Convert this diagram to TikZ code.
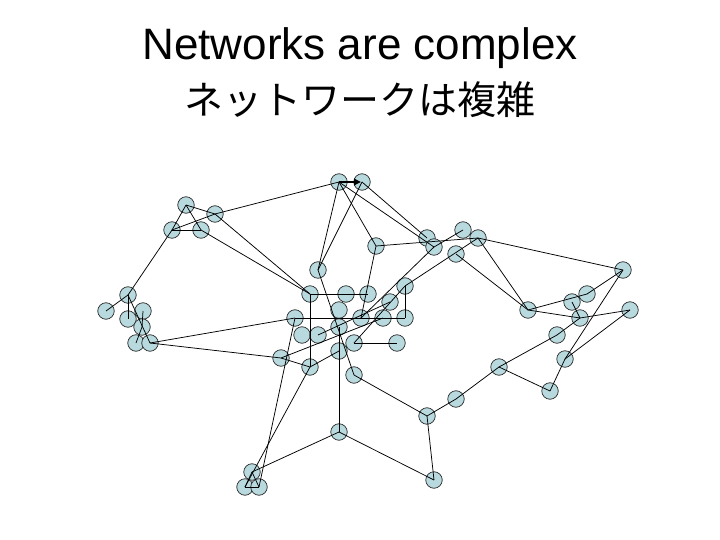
\documentclass[tikz,border=0pt]{standalone}
\usepackage{fontspec}
\setmainfont{Liberation Sans}
\newfontfamily\jpfont{Noto Sans CJK JP}
\usetikzlibrary{arrows.meta}
\definecolor{vertexblue}{RGB}{184,218,223}
\tikzset{
  vertex/.style={circle, draw=black!85, fill=vertexblue, line width=0.7pt, minimum size=16.5pt, inner sep=0pt},
  link/.style={line width=0.75pt}
}
\begin{document}
\begin{tikzpicture}[x=1pt,y=-1pt]
	\useasboundingbox (0,0) rectangle (720,540);

	% Title
	\node[anchor=base, font=\fontsize{44}{50}\selectfont] (title) at (360,59.5) {Networks are complex};
	\node[anchor=base, font=\jpfont\fontsize{39}{45}\selectfont] (subtitle) at (360,115) {ネットワークは複雑};

	% Vertices
	\foreach \v/\x/\y in {n1/339/182, n2/362/182,
		a1/186/205, a2/215/214, a3/172/230, a4/201/230,
		b1/128/295, b2/106/311, b3/128/319, b4/143/311, b5/142/327, b6/136/343, b7/150/343,
		d1/318/270, d2/376/246, e1/427/238, e2/434/247, e3/463/230, e4/478/238, e5/456/254,
		c1/310/294, c2/346/294, c3/368/294, c4/405/286, c5/390/302, c6/339/310,
		c7/295/318, c8/361/318, c9/383/318, c10/405/318, c11/302/335, c12/318/335,
		c13/339/327, c14/354/343, c15/397/343, c16/281/358, c17/339/351, c18/310/367, c19/354/375,
		f1/623/270, f2/528/310, f3/587/294, f4/572/302, f5/580/318, f6/630/310,
		f7/557/335, f8/565/359, f9/499/367, f10/550/391,
		g1/456/399, g2/427/416, g3/434/480, h1/339/432,
		i1/252/472, i2/245/487, i3/259/487} {
		\node[vertex] (\v) at (\x,\y) {};
	}

	% Links
	\foreach \a/\b in {n1/d1, n2/d1, n1/d2, n1/e2, n2/e1, a2/n1,
		a1/a2, a1/a3, a1/a4, a3/a4, a3/a2, a3/b1, a2/c1, a4/c1,
		b1/b2, b1/b3, b1/b7, b4/b5, b5/b6, b7/c7, b7/c16,
		c7/c10, c1/c3, c1/c18, c4/c10, c4/c14, c14/c15, d2/c8, e2/c8, e4/c4,
		d1/c19, c13/h1, c16/c18, c18/c17, c16/c9, c12/c5,
		d2/e4, e2/e3, e4/f1, e4/f2, e5/f2, f2/f3, f2/f5, f3/f1, f4/f5, f5/f6,
		f1/f8, f6/f8, f8/f10, f9/f7, f7/f5, f9/f10, f9/g1, g1/g2, g2/g3, c19/g2,
		h1/g3, h1/i1, i1/i2, i1/i3, i2/i3, i2/c18, i3/c7} {
		\draw[link] (\a.center) -- (\b.center);
	}

	% Directed link
	\draw[line width=1.8pt, -{Triangle[length=7pt,width=6.5pt]}, shorten >=1pt] (n1.center) -- (n2.center);
\end{tikzpicture}
\end{document}
